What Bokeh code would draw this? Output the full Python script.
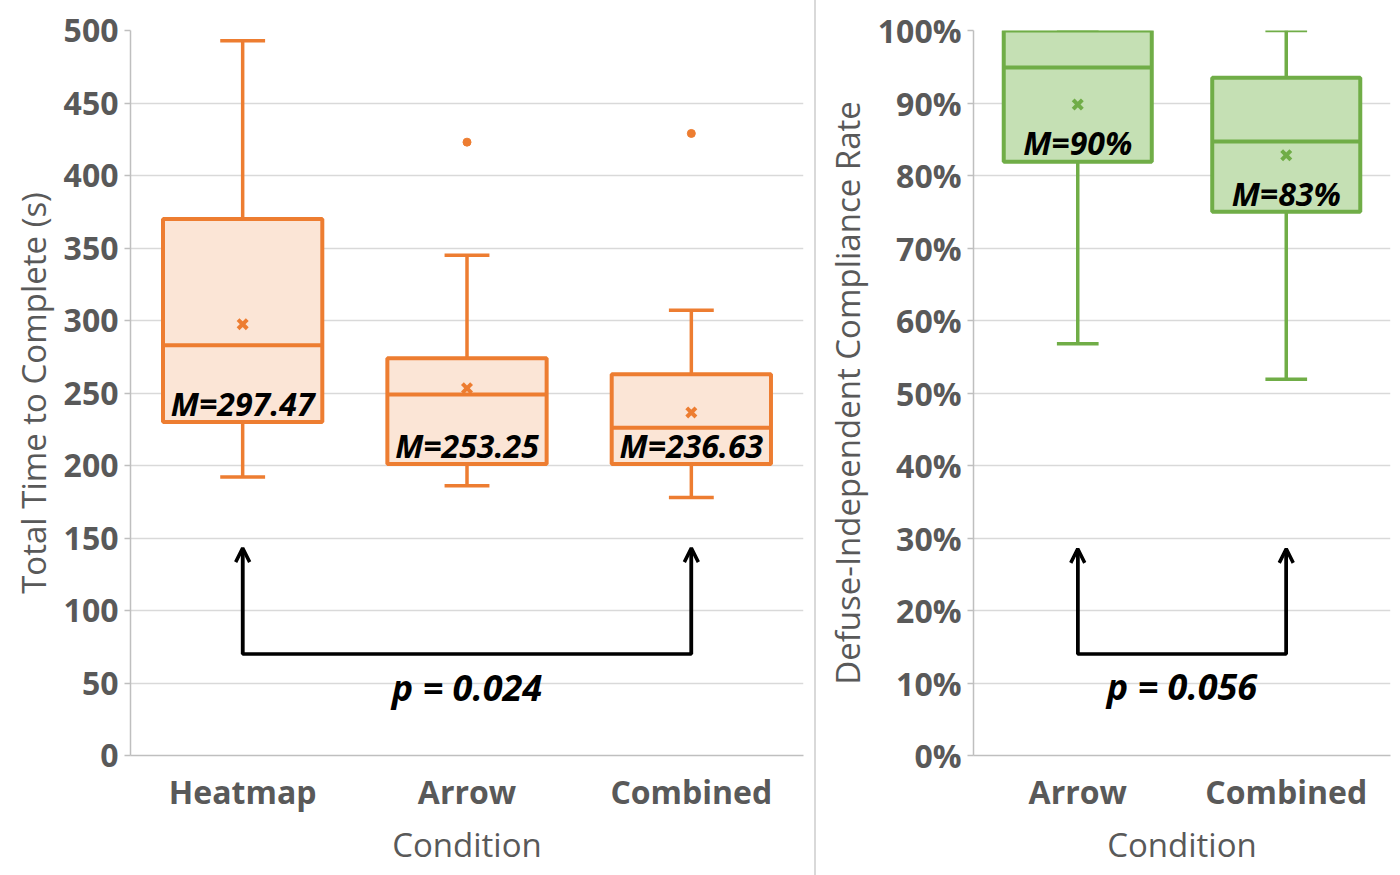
from bokeh.plotting import figure
from bokeh.models import (ColumnDataSource, FactorRange, Range1d, Arrow, OpenHead,
                          NumeralTickFormatter, SingleIntervalTicker, Div)
from bokeh.transform import dodge
from bokeh.layouts import row
from bokeh.core.properties import value
from bokeh.embed import file_html
from bokeh.resources import INLINE

# ---------------- data: left panel (time) ----------------
time_cats = ["Heatmap", "Arrow", "Combined"]
time_lower = [192, 186, 178]
time_q1 = [230, 201, 201]
time_median = [283, 249, 226]
time_q3 = [370, 274, 263]
time_upper = [493, 345, 307]
time_mean = [297.47, 253.25, 236.63]
time_mean_labels = ["M=297.47", "M=253.25", "M=236.63"]
time_label_y = [243, 214, 214]
time_out_cats = ["Arrow", "Combined"]
time_out_vals = [423, 429]
time_p_text = "p = 0.024"
time_bracket_cats = ["Heatmap", "Combined"]
time_bracket_low = 70
time_bracket_high = 143
time_p_y = 47

# ---------------- data: right panel (compliance) ----------------
comp_cats = ["Arrow", "Combined"]
comp_lower = [0.568, 0.519]
comp_q1 = [0.819, 0.75]
comp_median = [0.949, 0.847]
comp_q3 = [1.0, 0.935]
comp_upper = [1.0, 1.0]
comp_mean = [0.898, 0.828]
comp_mean_labels = ["M=90%", "M=83%"]
comp_label_y = [0.845, 0.775]
comp_p_text = "p = 0.056"
comp_bracket_low = 0.14
comp_bracket_high = 0.285
comp_p_y = 0.095

GREY_TXT = "#595959"
GRID = "#D9D9D9"
AXIS = "#BFBFBF"
FONT = "Open Sans"


def style(p):
    p.outline_line_color = None
    p.xgrid.grid_line_color = None
    p.ygrid.grid_line_color = GRID
    p.ygrid.grid_line_width = 1.5
    for ax in (p.xaxis[0], p.yaxis[0]):
        ax.axis_line_color = AXIS
        ax.axis_line_width = 1.5
        ax.major_tick_line_color = AXIS
        ax.major_tick_line_width = 1.5
        ax.minor_tick_line_color = None
        ax.major_label_text_font = FONT
        ax.major_label_text_font_style = "bold"
        ax.major_label_text_font_size = "32px"
        ax.major_label_text_color = GREY_TXT
        ax.axis_label_text_font = FONT
        ax.axis_label_text_font_style = "normal"
        ax.axis_label_text_font_size = "33px"
        ax.axis_label_text_color = GREY_TXT
    p.yaxis.major_tick_out = 6
    p.yaxis.major_tick_in = 0
    p.yaxis.major_label_standoff = 6
    p.xaxis.major_tick_line_color = None
    p.xaxis.major_label_standoff = 8
    p.xaxis.axis_label_standoff = 6


def boxes(p, cats, lo, q1, med, q3, up, mean, labels, label_y, line_c, fill_c):
    src = ColumnDataSource(dict(cat=cats, lo=lo, q1=q1, med=med, q3=q3, up=up,
                                mean=mean, lab=labels, ly=label_y))
    p.segment(x0="cat", x1="cat", y0="q3", y1="up", source=src, line_color=line_c, line_width=3.5)
    p.segment(x0="cat", x1="cat", y0="lo", y1="q1", source=src, line_color=line_c, line_width=3.5)
    for fld in ("lo", "up"):
        p.segment(x0=dodge("cat", -0.1, range=p.x_range), x1=dodge("cat", 0.1, range=p.x_range),
                  y0=fld, y1=fld, source=src, line_color=line_c, line_width=3.5)
    p.vbar(x="cat", bottom="q1", top="q3", width=0.71, source=src,
           fill_color=fill_c, line_color=line_c, line_width=4)
    p.segment(x0=dodge("cat", -0.355, range=p.x_range), x1=dodge("cat", 0.355, range=p.x_range),
              y0="med", y1="med", source=src, line_color=line_c, line_width=4)
    p.scatter(x="cat", y="mean", source=src, marker="x", size=13, line_width=4, line_color=line_c)
    p.text(x="cat", y="ly", text="lab", source=src, text_align="center", text_baseline="middle",
           text_font=value(FONT), text_font_style="bold italic", text_font_size="32px",
           text_color="black")


def bracket(p, left_cat, right_cat, low, high, text, text_cat, text_offset, text_y):
    p.line(x=[left_cat, left_cat, right_cat, right_cat], y=[high * 0.97, low, low, high * 0.97],
           line_color="black", line_width=3.5)
    asrc = ColumnDataSource(dict(x=[left_cat, right_cat], y0=[low, low], y1=[high, high]))
    p.add_layout(Arrow(end=OpenHead(size=14, line_width=3.5, line_color="black"),
                       x_start="x", y_start="y0", x_end="x", y_end="y1",
                       source=asrc, line_width=3.5, line_color="black"))
    tsrc = ColumnDataSource(dict(x=[text_cat], y=[text_y], t=[text]))
    p.text(x=dodge("x", text_offset, range=p.x_range), y="y", text="t", source=tsrc,
           text_align="center", text_baseline="middle",
           text_font=value(FONT), text_font_style="bold italic", text_font_size="36px",
           text_color="black")


# ---------------- left figure ----------------
p1 = figure(x_range=FactorRange(*time_cats), y_range=Range1d(0, 500),
            frame_width=673, frame_height=725, min_border_left=130, min_border_right=11,
            min_border_top=30, min_border_bottom=120, output_backend="svg",
            toolbar_location=None, background_fill_color="white")
style(p1)
p1.yaxis.ticker = SingleIntervalTicker(interval=50)
p1.yaxis.axis_label = "Total Time to Complete (s)"
p1.xaxis.axis_label = "Condition"
boxes(p1, time_cats, time_lower, time_q1, time_median, time_q3, time_upper, time_mean,
      time_mean_labels, time_label_y, "#ED7D31", "#FBE5D6")
p1.scatter(x=time_out_cats, y=time_out_vals, marker="circle", size=8,
           fill_color="#ED7D31", line_color="#ED7D31")
bracket(p1, time_bracket_cats[0], time_bracket_cats[1], time_bracket_low, time_bracket_high,
        time_p_text, time_cats[1], 0.0, time_p_y)

# ---------------- separator ----------------
sep = Div(width=2, height=875, margin=0, styles={"background-color": "#D9D9D9"})

# ---------------- right figure ----------------
p2 = figure(x_range=FactorRange(*comp_cats), y_range=Range1d(0, 1),
            frame_width=417, frame_height=725, min_border_left=157, min_border_right=10,
            min_border_top=30, min_border_bottom=120, output_backend="svg",
            toolbar_location=None, background_fill_color="white")
style(p2)
p2.yaxis.ticker = SingleIntervalTicker(interval=0.1)
p2.yaxis.formatter = NumeralTickFormatter(format="0%")
p2.yaxis.axis_label = "Defuse-Independent Compliance Rate"
p2.xaxis.axis_label = "Condition"
boxes(p2, comp_cats, comp_lower, comp_q1, comp_median, comp_q3, comp_upper, comp_mean,
      comp_mean_labels, comp_label_y, "#70AD47", "#C5E0B4")
bracket(p2, comp_cats[0], comp_cats[1], comp_bracket_low, comp_bracket_high,
        comp_p_text, comp_cats[0], 0.5, comp_p_y)

layout = row(p1, sep, p2)
open("out.html", "w").write(file_html(layout, INLINE))
